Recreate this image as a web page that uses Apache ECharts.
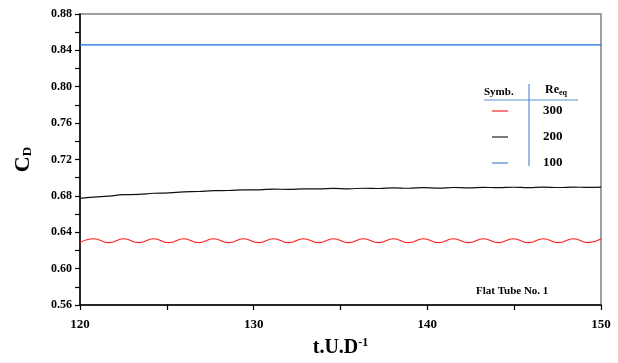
<!DOCTYPE html>
<html><head><meta charset="utf-8">
<script src="https://cdn.jsdelivr.net/npm/echarts@6/dist/echarts.min.js"></script>
<style>html,body{margin:0;padding:0;background:#fff;overflow:hidden}#c{width:618px;height:363px}</style>
</head><body><div id="c"></div>
<script>
// Re_eq = 300 (red)
var redT = [120.00,120.79,121.66,122.52,123.38,124.24,125.11,125.97,126.83,127.69,128.56,129.42,130.28,131.15,132.01,132.87,133.74,134.60,135.46,136.32,137.19,138.05,138.91,139.78,140.64,141.50,142.37,143.23,144.09,144.95,145.82,146.68,147.54,148.41,149.27,150.00];
var redV = [0.6287,0.6329,0.6286,0.6329,0.6286,0.6329,0.6286,0.6329,0.6286,0.6329,0.6286,0.6329,0.6286,0.6329,0.6286,0.6329,0.6286,0.6329,0.6286,0.6329,0.6286,0.6329,0.6286,0.6329,0.6286,0.6329,0.6286,0.6329,0.6286,0.6329,0.6286,0.6329,0.6286,0.6329,0.6286,0.6325];
// Re_eq = 200 (black)
var blackT = redT;
var blackV = [0.6773,0.6786,0.6797,0.6813,0.6816,0.6829,0.6833,0.6844,0.6848,0.6858,0.6859,0.6867,0.6867,0.6874,0.6872,0.6878,0.6876,0.6882,0.6878,0.6884,0.6881,0.6888,0.6884,0.6891,0.6886,0.6892,0.6888,0.6894,0.6890,0.6895,0.6891,0.6896,0.6892,0.6897,0.6893,0.6897];
// Re_eq = 100 (blue)
var blueT = [120, 150];
var blueV = [0.846, 0.846];

var legendRows = ['300', '200', '100'];
var legendColors = ['#ff2020', '#222222', '#4a86d0'];

function pairs(t, v){ return t.map(function(x,i){ return [x, v[i]]; }); }

var FONT = '"Liberation Serif","Times New Roman",serif';
var chart = echarts.init(document.getElementById('c'));

var graphics = [
  {type:'text', left:484, top:87, style:{text:'Symb.', font:'bold 11px '+FONT, fill:'#000'}},
  {type:'text', left:545, top:84, style:{text:'{a|Re}{b|eq}', rich:{a:{font:'bold 12px '+FONT, fill:'#000'}, b:{font:'bold 8px '+FONT, fill:'#000', verticalAlign:'bottom', padding:[6,0,0,0]}}}},
  {type:'line', shape:{x1:484, y1:100, x2:578, y2:100}, style:{stroke:'#5b8fd0', lineWidth:1.2}},
  {type:'line', shape:{x1:529, y1:84, x2:529, y2:166}, style:{stroke:'#5b8fd0', lineWidth:1.2}},
  {type:'text', left:476, top:286, style:{text:'Flat Tube No. 1', font:'bold 11px '+FONT, fill:'#000'}}
];
var rowY = [111, 137, 163];
legendRows.forEach(function(r, i){
  graphics.push({type:'line', shape:{x1:492, y1:rowY[i], x2:508, y2:rowY[i]}, style:{stroke:legendColors[i], lineWidth:1.2}});
  graphics.push({type:'text', left:543, top:rowY[i]-7, style:{text:r, font:'bold 13px '+FONT, fill:'#000'}});
});

chart.setOption({
  animation:false,
  backgroundColor:'#fff',
  grid:{left:80, right:17, top:14, bottom:49, show:true, borderColor:'#808080', borderWidth:1.5, backgroundColor:'transparent'},
  xAxis:{
    type:'value', min:120, max:150, interval:10,
    axisLine:{onZero:false, lineStyle:{color:'#000', width:1.5}},
    axisTick:{inside:false, length:5, lineStyle:{color:'#000', width:1.2}},
    minorTick:{show:true, splitNumber:2, length:5, lineStyle:{color:'#000', width:1.2}},
    splitLine:{show:false},
    axisLabel:{margin:13, color:'#000', fontFamily:FONT, fontWeight:'bold', fontSize:13},
    name:'{a|t.U.D}{b|-1}', nameLocation:'middle', nameGap:32,
    nameTextStyle:{rich:{a:{fontFamily:FONT, fontWeight:'bold', fontSize:20, color:'#000'}, b:{fontFamily:FONT, fontWeight:'bold', fontSize:12, color:'#000', verticalAlign:'top', padding:[0,0,10,0]}}}
  },
  yAxis:{
    type:'value', min:0.56, max:0.88, interval:0.04,
    axisLine:{lineStyle:{color:'#000', width:1.5}},
    axisTick:{inside:false, length:5, lineStyle:{color:'#000', width:1.2}},
    minorTick:{show:true, splitNumber:2, length:5, lineStyle:{color:'#000', width:1.2}},
    splitLine:{show:false},
    axisLabel:{margin:8, color:'#000', fontFamily:FONT, fontWeight:'bold', fontSize:12, formatter:function(v){return v.toFixed(2);}},
    name:'{a|C}{b|D}', nameLocation:'middle', nameGap:46,
    nameTextStyle:{rich:{a:{fontFamily:FONT, fontWeight:'bold', fontSize:22, color:'#000'}, b:{fontFamily:FONT, fontWeight:'bold', fontSize:13, color:'#000', verticalAlign:'bottom', padding:[8,0,0,0]}}}
  },
  series:[
    {type:'line', data:pairs(redT, redV), smooth:true, symbol:'none', lineStyle:{color:'#ff2020', width:1.1}},
    {type:'line', data:pairs(blackT, blackV), smooth:true, symbol:'none', lineStyle:{color:'#111', width:1.2}},
    {type:'line', data:pairs(blueT, blueV), symbol:'none', lineStyle:{color:'#1a6fd6', width:1.3}}
  ],
  graphic:graphics
});
</script></body></html>
